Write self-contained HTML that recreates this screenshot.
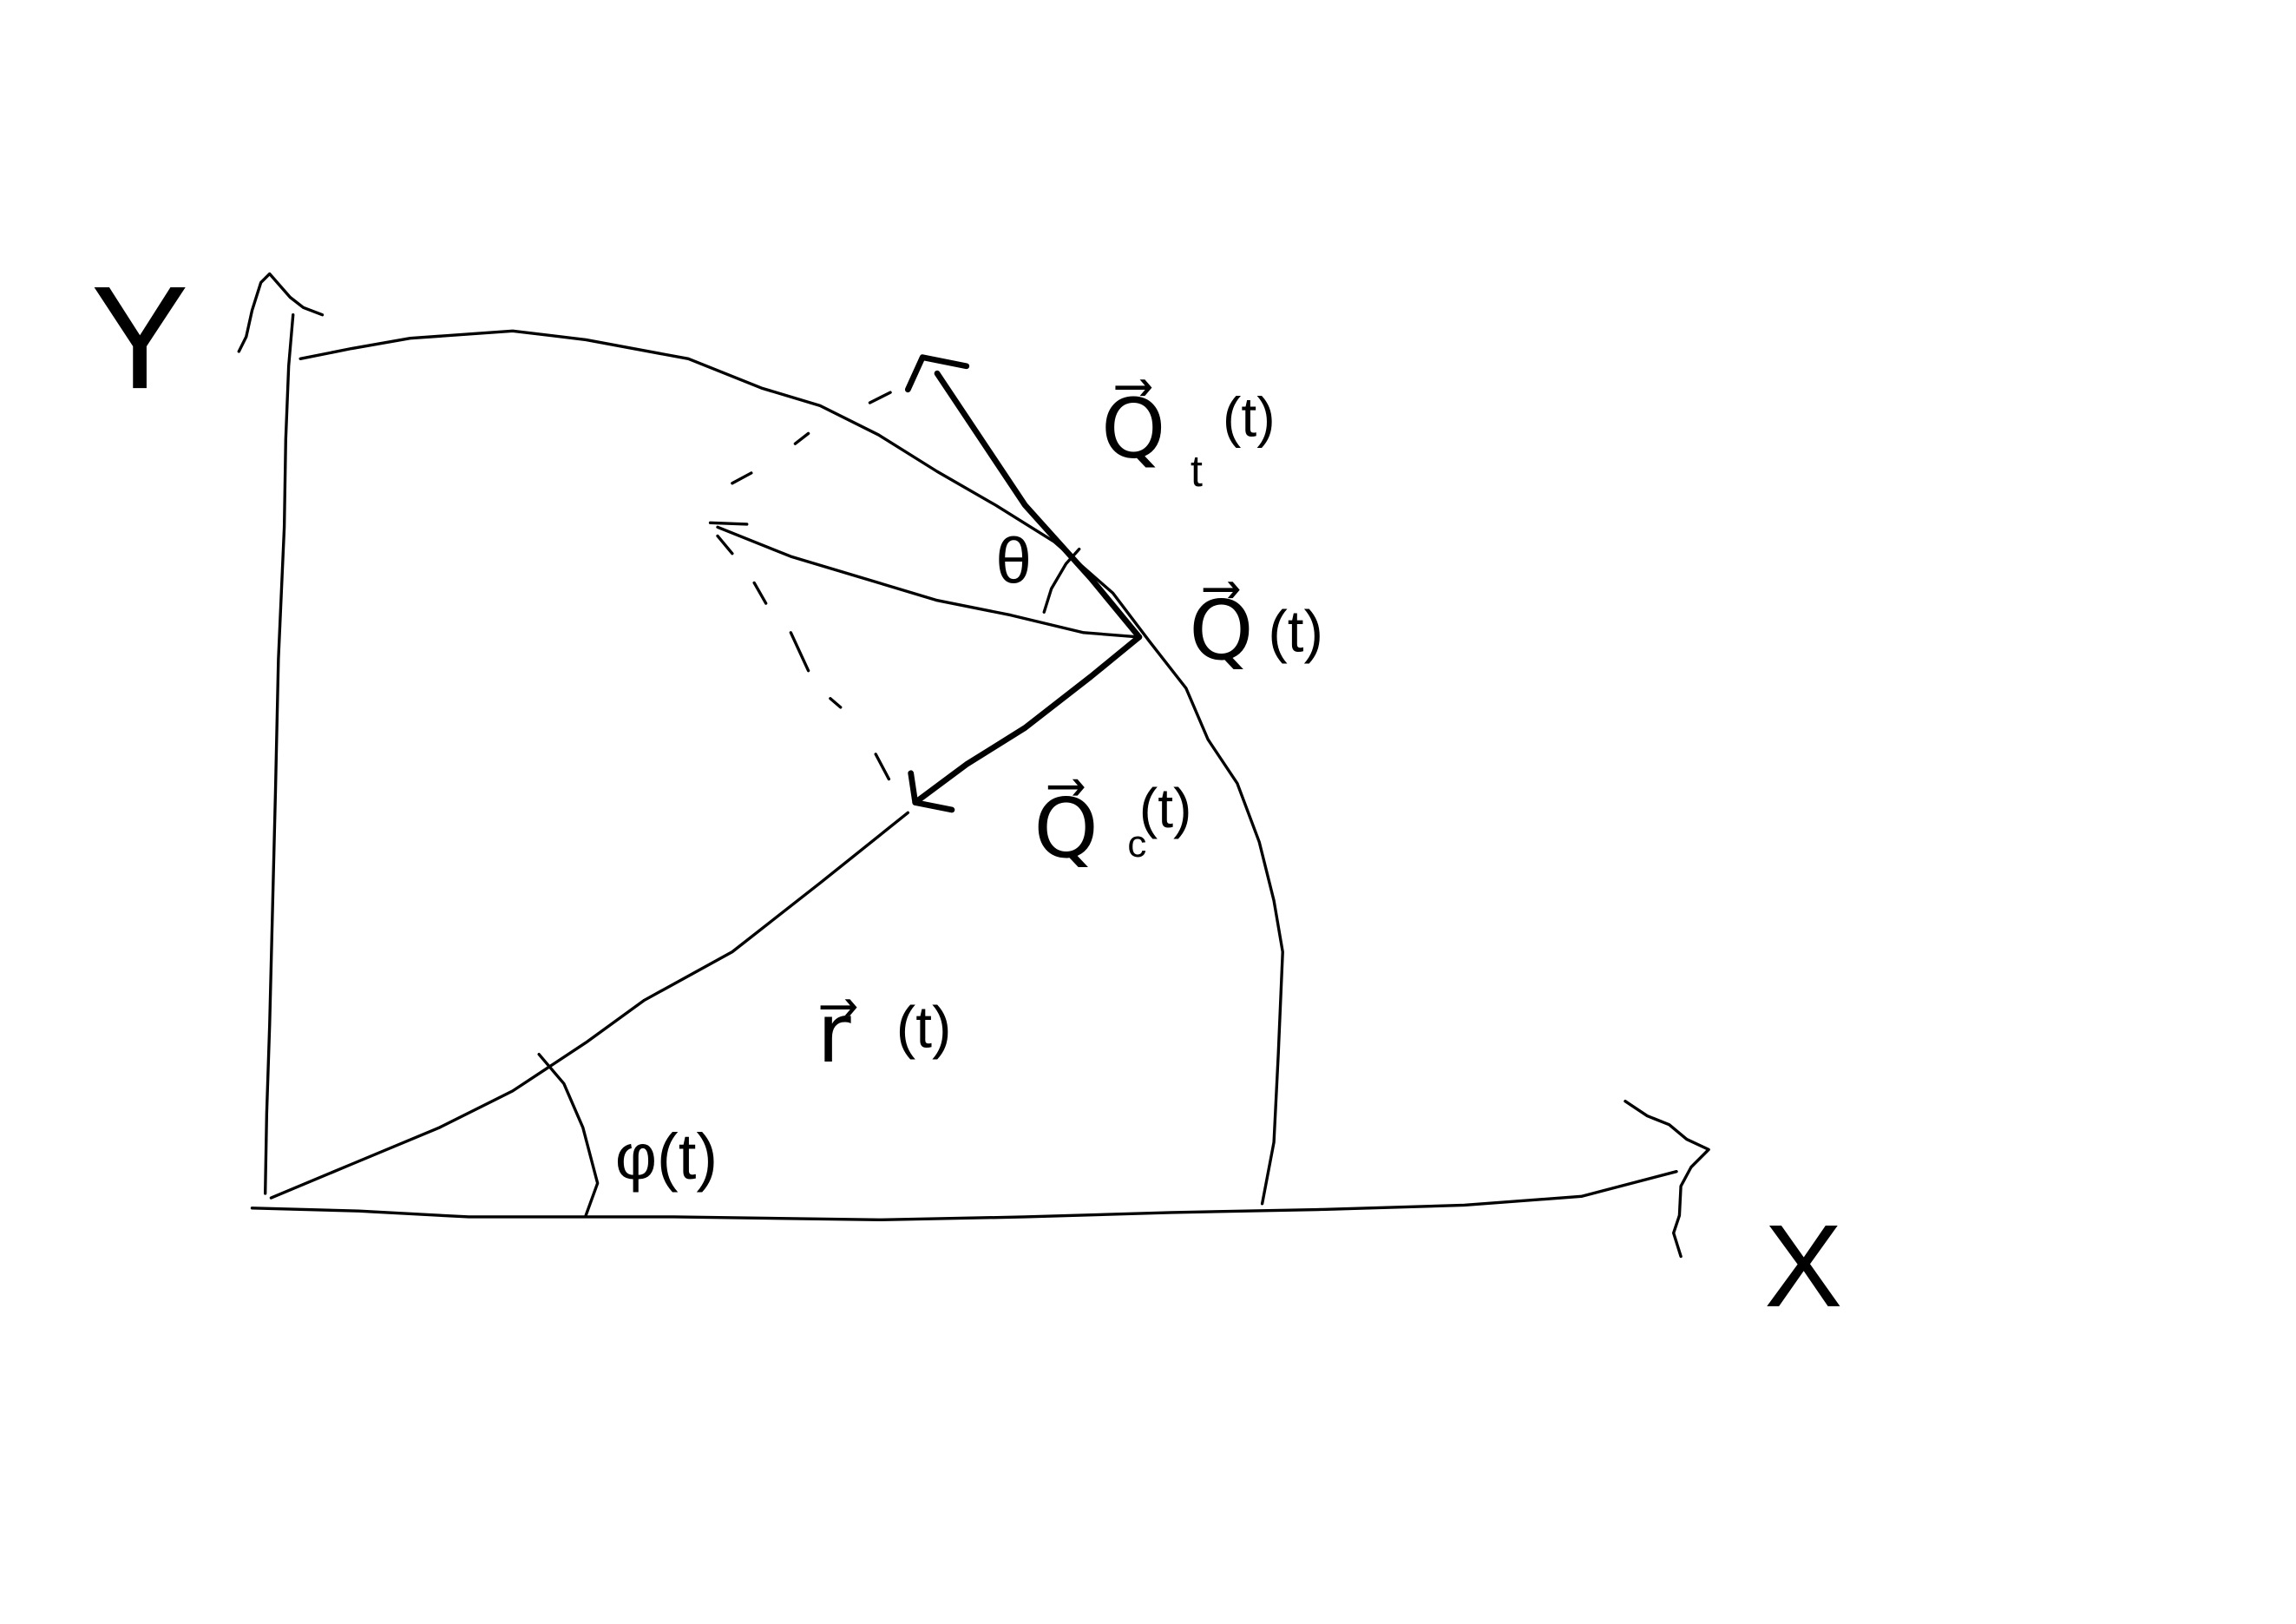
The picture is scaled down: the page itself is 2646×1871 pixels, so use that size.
<!DOCTYPE html>
<html><head><meta charset="utf-8"><style>
html,body{margin:0;padding:0;background:#fff;width:2646px;height:1871px;overflow:hidden}
svg{display:block}
.s{fill:none;stroke:#000;stroke-width:2;stroke-linecap:round;stroke-linejoin:round}
.t{fill:none;stroke:#000;stroke-width:4;stroke-linecap:round;stroke-linejoin:round}
text{font-family:"Liberation Sans",sans-serif;fill:#000}
</style></head><body>
<svg width="2646" height="1871" viewBox="0 0 1568 1109">
<g>
<polyline class="s" points="181,815 182,760 184,700 186,620 188,540 190,450 194,360 195,300 197,250 200,215"/>
<polyline class="s" points="163,240 168,230 172,212 178,193 184,187 198,203 207,210 220,215"/>
</g>
<g>
<polyline class="s" points="172,825 245,827 320,831 460,831 600,833 700,831 800,828 900,826 1000,823 1080,817 1145,800"/>
<polyline class="s" points="1110,752 1125,762 1140,768 1152,778 1167,785 1155,797 1148,810 1147,830 1143,842 1148,858"/>
</g>
<polyline class="s" points="205,245 240,238 280,231 350,226 400,232 470,245 520,265 560,277 600,297 640,322 680,345 720,370 760,405 785,438 810,470 825,505 845,535 860,575 870,615 876,650 873,720 870,780 862,822"/>
<polyline class="s" points="185,818 240,795 300,770 350,745 400,712 440,683 500,650 560,603 620,555"/>
<polyline class="t" points="778,435 745,462 700,497 660,522 625,548"/>
<polyline class="t" points="622,528 625,548 650,553"/>
<polyline class="t" points="778,435 745,395 700,345 670,300 640,255"/>
<polyline class="t" points="620,266 630,244 660,250"/>
<polyline class="s" points="778,435 740,432 690,420 640,410 590,395 540,380 490,360"/>
<polyline class="s" points="485,357 510,358 M490,368"/>
<polyline class="s" points="490,366 500,378"/>
<g>
<polyline class="s" points="594,275 608,268"/><polyline class="s" points="543,303 552,296"/><polyline class="s" points="500,330 513,323"/>
<polyline class="s" points="515,398 523,412"/><polyline class="s" points="540,432 552,458"/><polyline class="s" points="567,477 574,483"/><polyline class="s" points="598,515 607,532"/>
</g>
<polyline class="s" points="713,418 718,402 728,385 737,375"/>
<polyline class="s" points="368,720 385,740 398,770 408,808 400,830"/>
<text x="62" y="265" font-size="100">Y</text>
<text x="1205" y="892" font-size="80">X</text>
<text x="752" y="312" font-size="56">Q⃗</text>
<text x="813" y="332" font-size="30">t</text>
<text x="835" y="298" font-size="38">(t)</text>
<text x="812" y="450" font-size="56">Q⃗</text>
<text x="866" y="445" font-size="40">(t)</text>
<text x="706" y="585" font-size="56">Q⃗</text>
<text x="770" y="585" font-size="26">c</text>
<text x="778" y="565" font-size="38">(t)</text>
<text x="558" y="725" font-size="56">r⃗</text>
<text x="612" y="715" font-size="40">(t)</text>
<text x="420" y="805" font-size="44">φ(t)</text>
<text x="680" y="398" font-size="44">θ</text>
</svg>
</body></html>
